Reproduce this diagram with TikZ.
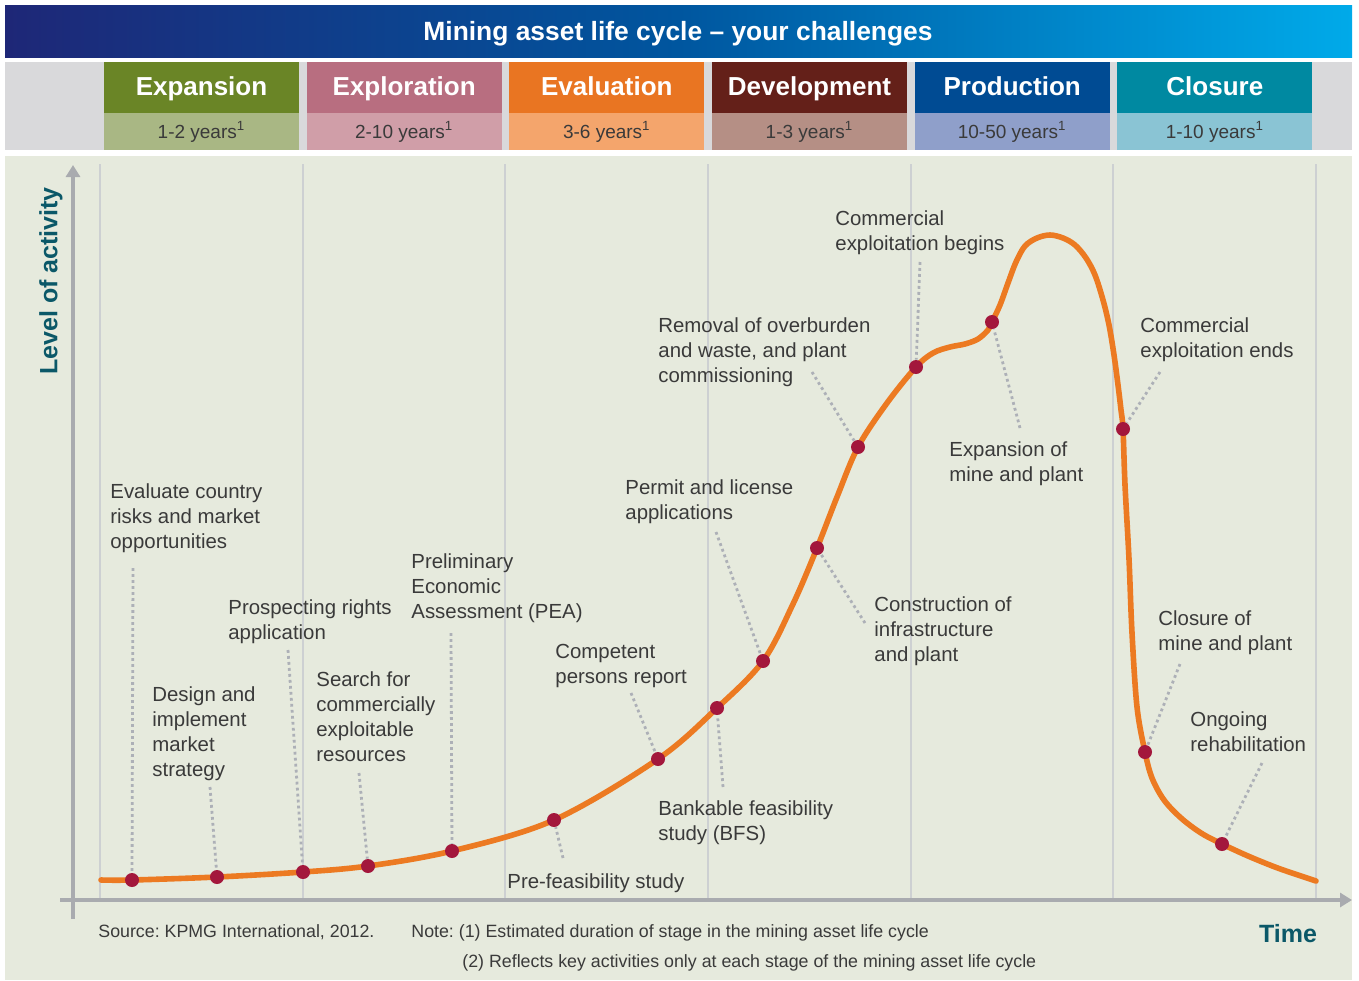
\documentclass[tikz,border=0pt]{standalone}
\usepackage{fontspec}
\setmainfont{Liberation Sans}
\usetikzlibrary{arrows.meta}
\frenchspacing

\definecolor{bannerL}{HTML}{1E2777}
\definecolor{bannerM}{HTML}{00569F}
\definecolor{bannerR}{HTML}{00AAE9}
\definecolor{rowgray}{HTML}{D9D9DB}
\definecolor{panel}{HTML}{E6EADD}
\definecolor{gridgray}{HTML}{CDD0D2}
\definecolor{axisgray}{HTML}{A9ABAF}
\definecolor{curveorange}{HTML}{EC7A22}
\definecolor{dotred}{HTML}{A3173C}
\definecolor{leadergray}{HTML}{ADB0B7}
\definecolor{labelgray}{HTML}{3A3A3A}
\definecolor{axisteal}{HTML}{0B5868}
\definecolor{expTop}{HTML}{6A8526}
\definecolor{expBot}{HTML}{A9B784}
\definecolor{explTop}{HTML}{B86E80}
\definecolor{explBot}{HTML}{D09EA8}
\definecolor{evalTop}{HTML}{E97522}
\definecolor{evalBot}{HTML}{F4A56C}
\definecolor{devTop}{HTML}{642019}
\definecolor{devBot}{HTML}{B58F85}
\definecolor{prodTop}{HTML}{004B93}
\definecolor{prodBot}{HTML}{8F9FCA}
\definecolor{closTop}{HTML}{0089A1}
\definecolor{closBot}{HTML}{8AC4D4}

\begin{document}
\begin{tikzpicture}[x=0.5pt, y=-0.5pt,
  lbl/.style={anchor=north west, align=left, inner sep=0pt, text=labelgray, font=\fontsize{10.2}{12.5}\selectfont},
  mdot/.style={circle, fill=dotred, inner sep=0pt, minimum size=7pt},
  leader/.style={leadergray, line width=1.4pt, dash pattern=on 1.4pt off 1.6pt},
  gridline/.style={gridgray, line width=0.9pt},
  axis/.style={axisgray, line width=1.7pt, -{Triangle[length=6pt, width=7pt]}},
  stagename/.style={anchor=base, text=white, font=\bfseries\fontsize{13}{15}\selectfont},
  stageyears/.style={anchor=base, text=labelgray, font=\fontsize{9.5}{11}\selectfont},
  note/.style={anchor=base west, inner sep=0pt, text=labelgray, font=\fontsize{8.9}{11}\selectfont},
  axislabel/.style={text=axisteal, font=\bfseries\fontsize{12.5}{15}\selectfont}]

  \useasboundingbox (0,0) rectangle (1359,980);
  \fill[white] (0,0) rectangle (1359,980);

  % title banner
  \shade[left color=bannerL, right color=bannerR, middle color=bannerM] (5,5) rectangle (1352,57);
  \node[anchor=base, text=white, font=\bfseries\fontsize{13.2}{15}\selectfont] (title) at (678,40) {Mining asset life cycle -- your challenges};

  % stages
  \fill[rowgray] (5,62) rectangle (1352,150);
  \foreach \name/\yrs/\colA/\colB [count=\i from 0] in {Expansion/1-2/expTop/expBot, Exploration/2-10/explTop/explBot, Evaluation/3-6/evalTop/evalBot, Development/1-3/devTop/devBot, Production/10-50/prodTop/prodBot, Closure/1-10/closTop/closBot} {
    \fill[\colA] ({104+202.67*\i},62) rectangle ++(195,51);
    \fill[\colB] ({104+202.67*\i},113) rectangle ++(195,37);
    \node[stagename] (stage\i) at ({201.5+202.67*\i},95) {\name};
    \node[stageyears] (years\i) at ({201.5+202.67*\i},138) {\yrs{} years\textsuperscript{1}};
  }

  % chart panel
  \fill[panel] (5,156) rectangle (1352,980);
  \foreach \i in {0,...,6}
    \draw[gridline] ({100+202.67*\i},164) -- ({100+202.67*\i},900);
  \draw[axis] (73,919) -- (73,165);
  \draw[axis] (60,900) -- (1352,900);
  \node[axislabel, rotate=90] (ylab) at (51,281) {Level of activity};
  \node[axislabel, anchor=base] (xlab) at (1288,942) {Time};

  % activity curve
  \draw[curveorange, line width=2.8pt, line cap=round] plot[smooth, tension=0.55] coordinates {
    (101,880) (132,880) (217,877) (303,872) (368,866) (452,851)
    (554,820) (658,759) (717,708) (763,661) (793,604) (817,548)
    (837,497) (858,447) (887,403) (916,367) (933,353) (950,347) (965,344)
    (978,339) (988,330) (992,322) (1000,305) (1008,283) (1016,262) (1025,246) (1037,238)
    (1050,235) (1063,238) (1075,245) (1086,258) (1095,275) (1103,300) (1109,325) (1114,355)
    (1118,385) (1121,410) (1123,429) (1125,485) (1129,559) (1132,633) (1137,707) (1145,752)
    (1152,778) (1164,800) (1181,818) (1201,833) (1222,844) (1248,856) (1275,867) (1295,874)
    (1316,881)};

  % key activities
  \node[mdot] (d1) at (132,880) {};
  \node[mdot] (d2) at (217,877) {};
  \node[mdot] (d3) at (303,872) {};
  \node[mdot] (d4) at (368,866) {};
  \node[mdot] (d5) at (452,851) {};
  \node[mdot] (d6) at (554,820) {};
  \node[mdot] (d7) at (658,759) {};
  \node[mdot] (d8) at (717,708) {};
  \node[mdot] (d9) at (763,661) {};
  \node[mdot] (d10) at (817,548) {};
  \node[mdot] (d11) at (858,447) {};
  \node[mdot] (d12) at (916,367) {};
  \node[mdot] (d13) at (992,322) {};
  \node[mdot] (d14) at (1123,429) {};
  \node[mdot] (d15) at (1145,752) {};
  \node[mdot] (d16) at (1222,844) {};

  \node[lbl] (evaluate) at (110,483) {Evaluate country\\risks and market\\opportunities};
  \node[lbl] (design) at (152,686) {Design and\\implement\\market\\strategy};
  \node[lbl] (prospect) at (228,599) {Prospecting rights\\application};
  \node[lbl] (search) at (316,671) {Search for\\commercially\\exploitable\\resources};
  \node[lbl] (pea) at (411,553) {Preliminary\\Economic\\Assessment (PEA)};
  \node[lbl] (prefeas) at (507,873) {Pre-feasibility study};
  \node[lbl] (cpr) at (555,644) {Competent\\persons report};
  \node[lbl] (bfs) at (658,800) {Bankable feasibility\\study (BFS)};
  \node[lbl] (permit) at (625,479) {Permit and license\\applications};
  \node[lbl] (construct) at (874,596) {Construction of\\infrastructure\\and plant};
  \node[lbl] (removal) at (658,317) {Removal of overburden\\and waste, and plant\\commissioning};
  \node[lbl] (begins) at (835,210) {Commercial\\exploitation begins};
  \node[lbl] (expand) at (949,441) {Expansion of\\mine and plant};
  \node[lbl] (ends) at (1140,317) {Commercial\\exploitation ends};
  \node[lbl] (closure) at (1158,610) {Closure of\\mine and plant};
  \node[lbl] (rehab) at (1190,711) {Ongoing\\rehabilitation};

  % leaders
  \coordinate (e1) at (133,568);
  \coordinate (e2) at (210,787);
  \coordinate (e3) at (288,650);
  \coordinate (e4) at (359,773);
  \coordinate (e5) at (451,633);
  \coordinate (e6) at (563,858);
  \coordinate (e7) at (631,693);
  \coordinate (e8) at (723,787);
  \coordinate (e9) at (716,532);
  \coordinate (e10) at (865,623);
  \coordinate (e11) at (812,372);
  \coordinate (e12) at (920,262);
  \coordinate (e13) at (1020,428);
  \coordinate (e14) at (1160,372);
  \coordinate (e15) at (1180,664);
  \coordinate (e16) at (1262,763);
  \foreach \i in {1,...,16}
    \draw[leader] (e\i) -- (d\i);

  % notes
  \node[note] (source) at (98,937) {Source: KPMG International, 2012.};
  \node[note] (note1) at (411,937) {Note: (1) Estimated duration of stage in the mining asset life cycle};
  \node[note] (note2) at (462,967) {(2) Reflects key activities only at each stage of the mining asset life cycle};
\end{tikzpicture}
\end{document}
